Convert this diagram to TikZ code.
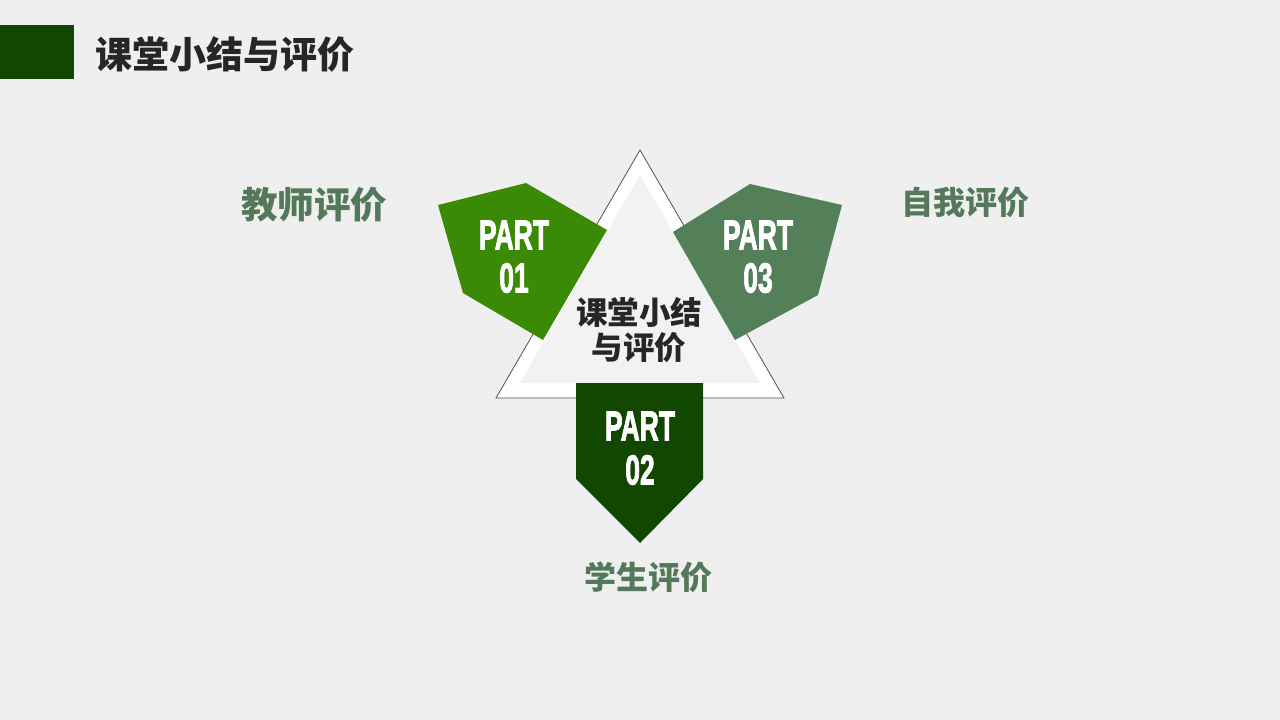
\documentclass[tikz,border=0pt]{standalone}
\usepackage{fontspec}
\setmainfont{Liberation Sans}
\newfontfamily\cjk{Noto Sans CJK SC}
\newfontfamily\partfont{Liberation Sans}[BoldFeatures={FakeBold=2.5}]
\definecolor{bg}{HTML}{EFEFEF}
\definecolor{darkg}{HTML}{114700}
\definecolor{brightg}{HTML}{3A8A06}
\definecolor{grayg}{HTML}{538059}
\definecolor{labg}{HTML}{53795A}
\definecolor{txt}{HTML}{262626}
\definecolor{inner}{HTML}{F2F2F2}
\tikzset{
  parttxt/.style={text=white, font=\partfont\bfseries\fontsize{42}{42}\selectfont, inner sep=0pt},
  labtxt/.style={text=labg, font=\cjk\bfseries, inner sep=0pt},
  titletxt/.style={text=txt, font=\cjk\bfseries\fontsize{37}{37}\selectfont, inner sep=0pt, anchor=west},
}
\newcommand{\pt}[1]{\scalebox{0.63}[1]{#1}}
\begin{document}
\begin{tikzpicture}[x=1pt,y=-1pt]
\fill[bg] (0,0) rectangle (1280,720);
\useasboundingbox (0,0) rectangle (1280,720);
% header
\fill[darkg] (0,25) rectangle (74,79);
\node[titletxt] (title) at (95,55) {课堂小结与评价};
% outer triangle
\draw[fill=white, draw=txt!80, line width=0.8pt] (640,150) -- (784,398) -- (496,398) -- cycle;
% inner triangle
\fill[inner] (640,175) -- (760,383) -- (520,383) -- cycle;
% part 01
\fill[brightg] (438,205) -- (526,183) -- (607,230) -- (543,340) -- (463,293) -- cycle;
% part 03
\fill[grayg] (673,232) -- (750,184) -- (842,205) -- (818,295) -- (735,340) -- cycle;
% part 02
\fill[darkg] (576,383) -- (703,383) -- (703,479) -- (640,543) -- (576,479) -- cycle;
% center text
\node[text=txt, font=\cjk\bfseries\fontsize{31.5}{31.5}\selectfont, inner sep=0pt] (c1) at (639,312) {课堂小结};
\node[text=txt, font=\cjk\bfseries\fontsize{31.5}{31.5}\selectfont, inner sep=0pt] (c2) at (639,348) {与评价};
% part texts
\node[parttxt] (p1a) at (514,235) {\pt{PART}};
\node[parttxt] (p1b) at (514,278) {\pt{01}};
\node[parttxt] (p3a) at (758,235) {\pt{PART}};
\node[parttxt] (p3b) at (758,278) {\pt{03}};
\node[parttxt] (p2a) at (640,426) {\pt{PART}};
\node[parttxt] (p2b) at (640,470) {\pt{02}};
% labels
\node[labtxt, font=\cjk\bfseries\fontsize{36.5}{36.5}\selectfont] (l1) at (314,205) {教师评价};
\node[labtxt, font=\cjk\bfseries\fontsize{32}{32}\selectfont] (l3) at (965,202) {自我评价};
\node[labtxt, font=\cjk\bfseries\fontsize{32}{32}\selectfont] (l2) at (648,577) {学生评价};
\end{tikzpicture}
\end{document}
